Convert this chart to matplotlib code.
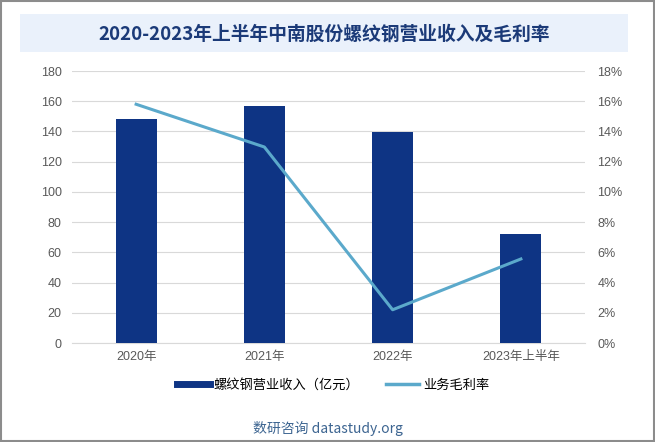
import matplotlib
matplotlib.use("Agg")
import matplotlib.pyplot as plt
from matplotlib.patches import Rectangle
from matplotlib.lines import Line2D
from matplotlib.ticker import FuncFormatter, MultipleLocator

plt.rcParams['font.family'] = ['Liberation Sans', 'Noto Sans CJK SC', 'DejaVu Sans']

categories = ["2020年", "2021年", "2022年", "2023年上半年"]
revenue = [148.2, 156.8, 139.6, 72.1]
margin = [15.8, 12.97, 2.2, 5.56]
title = "2020-2023年上半年中南股份螺纹钢营业收入及毛利率"
bar_label = "螺纹钢营业收入（亿元）"
line_label = "业务毛利率"
source = "数研咨询 datastudy.org"

bar_color = "#0E3484"
line_color = "#5BA9CB"
tick_color = "#595959"

fig = plt.figure(figsize=(6.55, 4.42), dpi=100)
fig.patch.set_facecolor("white")

# outer border
fig.add_artist(Rectangle((0.0015, 0.002), 0.997, 0.996, transform=fig.transFigure,
                         fill=False, edgecolor="#8C8C8C", linewidth=1.5))
# title band
fig.add_artist(Rectangle((20/655, 1-52/442), 608/655, 38/442, transform=fig.transFigure,
                         facecolor="#EAF1FB", edgecolor="none"))
fig.text(324/655, 1-34/442, title, ha="center", va="center", fontsize=13.5,
         fontweight="bold", color="#1B3A78", family=['Noto Sans CJK SC', 'DejaVu Sans'])

ax = fig.add_axes([72/655, 1-343/442, 513/655, 272/442])
x = list(range(len(categories)))
ax.bar(x, revenue, width=0.32, color=bar_color, label=bar_label, zorder=3)
ax.set_ylim(0, 180)
ax.set_xlim(-0.5, len(categories) - 0.5)
ax.yaxis.set_major_locator(MultipleLocator(20))
ax.set_xticks(x)
ax.set_xticklabels(categories)
ax.grid(axis="y", color="#D9D9D9", linewidth=0.8, zorder=0)
for s in ["top", "right", "left"]:
    ax.spines[s].set_visible(False)
ax.spines["bottom"].set_color("#D9D9D9")
ax.tick_params(axis="both", length=0, labelsize=9, colors=tick_color, pad=7.5)
ax.tick_params(axis="x", pad=6)

ax2 = ax.twinx()
ax2.plot(x, margin, color=line_color, linewidth=2.2, label=line_label, zorder=4)
ax2.set_ylim(0, 18)
ax2.yaxis.set_major_locator(MultipleLocator(2))
ax2.yaxis.set_major_formatter(FuncFormatter(lambda v, p: f"{v:.0f}%"))
for s in ["top", "right", "left", "bottom"]:
    ax2.spines[s].set_visible(False)
ax2.tick_params(axis="y", length=0, labelsize=9, colors=tick_color, pad=9)

handles = [Line2D([0], [0], color=bar_color, linewidth=5), Line2D([0], [0], color=line_color, linewidth=2.5)]
fig.legend(handles, [bar_label, line_label], loc="center", bbox_to_anchor=(333/655, 1-385/442),
           ncol=2, frameon=False, fontsize=9.5, handlelength=2.5, columnspacing=2.0,
           handletextpad=0.3, prop={'family': ['Noto Sans CJK SC', 'DejaVu Sans'], 'size': 9.5})

fig.text(328/655, 1-428/442, source, ha="center", va="center", fontsize=10, color="#3D6591",
         family=['Noto Sans CJK SC', 'DejaVu Sans'])

fig.savefig("out.png", dpi=100)
